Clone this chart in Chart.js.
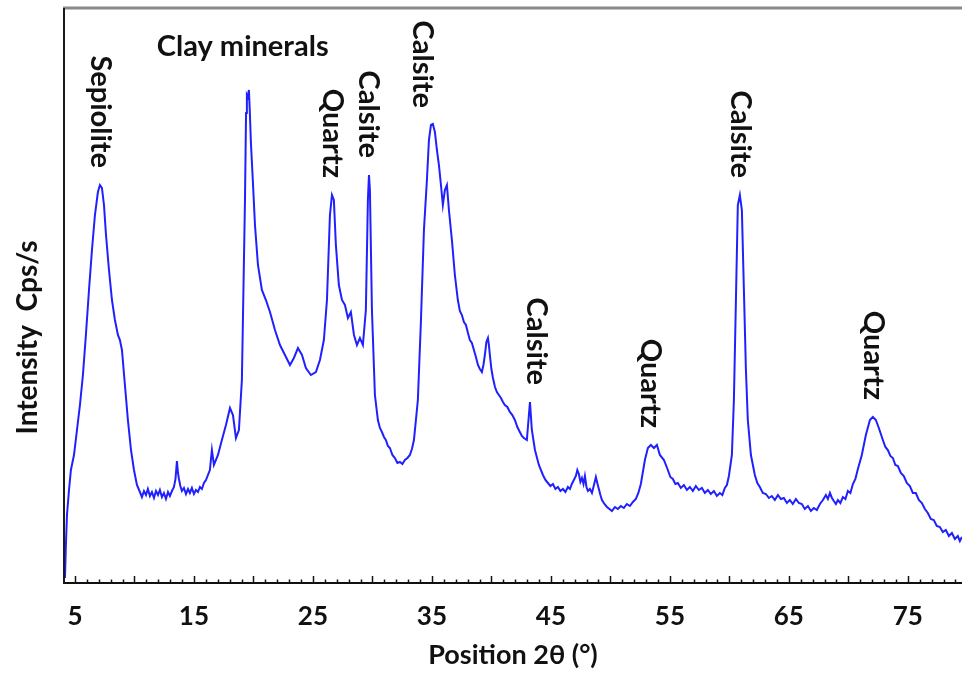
<!DOCTYPE html>
<html>
<head>
<meta charset="utf-8">
<title>XRD pattern</title>
<script src="https://cdn.jsdelivr.net/npm/chart.js@4/dist/chart.umd.min.js"></script>
<style>
  html, body { margin: 0; padding: 0; background: #ffffff; }
  canvas { display: block; }
</style>
</head>
<body>
<canvas id="xrd" width="962" height="675"></canvas>
<script>
// Diffraction angle 2θ (degrees)
const angles = [
  4.16,4.24,4.33,4.50,4.66,4.92,5.17,5.42,5.67,5.92,
  6.18,6.43,6.68,6.93,7.10,7.27,7.44,7.61,7.86,8.11,
  8.36,8.61,8.78,8.95,9.20,9.45,9.71,9.96,10.21,10.46,
  10.63,10.80,10.97,11.13,11.30,11.47,11.64,11.81,11.98,12.14,
  12.31,12.48,12.65,12.82,12.98,13.15,13.32,13.45,13.57,13.66,
  13.74,13.86,13.99,14.16,14.33,14.50,14.66,14.83,15.00,15.17,
  15.34,15.50,15.67,15.84,16.01,16.34,16.51,16.68,17.02,17.35,
  17.69,18.03,18.28,18.53,18.78,19.03,19.29,19.38,19.45,19.53,
  19.62,19.70,19.79,19.96,20.13,20.38,20.71,21.05,21.39,21.81,
  22.23,22.65,23.07,23.40,23.74,24.08,24.41,24.83,25.25,25.59,
  25.92,26.18,26.43,26.60,26.76,26.93,27.18,27.44,27.69,27.94,
  28.19,28.45,28.70,28.95,29.20,29.45,29.62,29.71,29.79,29.96,
  30.21,30.46,30.63,30.80,30.97,31.13,31.30,31.47,31.68,31.89,
  32.10,32.31,32.52,32.73,32.94,33.15,33.32,33.49,33.82,34.08,
  34.33,34.58,34.75,34.92,35.08,35.25,35.42,35.59,35.76,35.92,
  36.09,36.26,36.43,36.68,36.93,37.18,37.35,37.52,37.69,37.86,
  38.03,38.19,38.36,38.53,38.70,38.87,39.03,39.20,39.33,39.45,
  39.58,39.71,39.79,39.87,40.00,40.13,40.30,40.46,40.63,40.80,
  40.97,41.13,41.34,41.55,41.76,41.97,42.18,42.39,42.56,42.73,
  42.98,43.15,43.24,43.40,43.66,43.99,44.33,44.54,44.75,44.96,
  45.17,45.38,45.59,45.80,46.01,46.22,46.43,46.60,46.76,46.93,
  47.10,47.22,47.35,47.48,47.61,47.74,47.86,47.99,48.11,48.28,
  48.45,48.62,48.78,48.90,49.03,49.16,49.29,49.50,49.71,49.92,
  50.13,50.38,50.63,50.88,51.13,51.38,51.64,51.89,52.14,52.35,
  52.56,52.90,53.15,53.40,53.66,53.91,54.16,54.50,54.83,55.04,
  55.25,55.46,55.67,55.92,56.18,56.43,56.68,56.93,57.18,57.43,
  57.69,57.94,58.19,58.44,58.70,58.95,59.20,59.41,59.62,59.79,
  59.96,60.21,60.38,60.55,60.71,60.88,61.05,61.22,61.39,61.55,
  61.81,62.14,62.35,62.56,62.81,63.07,63.32,63.57,63.82,64.08,
  64.33,64.58,64.83,65.08,65.33,65.59,65.84,66.09,66.34,66.60,
  66.85,67.10,67.35,67.61,67.86,68.11,68.28,68.45,68.62,68.78,
  68.95,69.12,69.33,69.54,69.75,69.96,70.17,70.38,70.59,70.80,
  71.13,71.47,71.81,72.06,72.31,72.56,72.90,73.11,73.32,73.53,
  73.74,73.95,74.16,74.41,74.66,74.91,75.17,75.42,75.67,75.92,
  76.18,76.43,76.68,76.93,77.18,77.43,77.69,77.94,78.19,78.45,
  78.70,78.95,79.20,79.37,79.54];

// Measured intensity (counts) at each angle above
const intensity = [
  5,38,68,93,113,128,153,178,208,248,
  293,333,368,391,398,395,378,348,313,283,
  263,248,243,233,198,163,133,113,98,91,
  86,92,88,94,87,91,85,92,88,93,
  86,90,84,91,87,92,96,104,122,110,
  104,97,92,95,89,94,90,95,89,93,
  91,96,94,100,103,113,133,118,128,143,
  158,175,168,145,153,203,383,470,488,486,
  493,470,440,400,358,318,293,283,271,253,
  238,228,218,225,235,228,215,208,211,223,
  243,283,368,388,383,338,298,283,278,265,
  271,248,238,245,238,273,383,408,393,273,
  188,163,155,151,146,143,137,135,128,125,
  120,121,119,123,125,128,134,143,183,263,
  353,403,443,458,459,451,433,418,398,378,
  393,398,373,343,308,283,272,268,261,258,
  250,243,240,233,226,218,214,211,218,228,
  241,245,238,228,214,205,196,191,188,185,
  181,178,176,171,168,163,156,151,147,145,
  143,168,181,153,133,118,108,103,100,97,
  99,94,96,92,94,91,96,94,99,103,
  107,113,109,101,105,99,107,96,92,94,
  90,98,106,100,94,88,83,79,76,74,
  72,76,74,77,75,79,77,81,84,90,
  99,123,135,138,135,138,128,123,113,106,
  104,99,100,95,98,93,96,92,97,93,
  95,90,93,89,92,87,90,88,95,98,
  107,128,183,283,378,388,373,293,213,163,
  128,108,100,96,90,89,85,87,83,88,
  84,85,80,83,79,84,80,79,74,77,
  72,75,73,79,83,88,84,90,85,82,
  79,83,80,86,84,92,90,99,104,114,
  128,148,163,166,163,155,143,136,133,127,
  125,118,117,110,107,100,97,90,90,83,
  80,74,70,64,63,57,56,51,53,47,
  50,44,47,42,46];

// Labelled tick values on the 2θ axis
const tickLabels = [5, 15, 25, 35, 45, 55, 65, 75];

// Phase identifications and the 2θ each one is written at
const peakNames  = ['Sepiolite', 'Quartz', 'Calsite', 'Calsite', 'Calsite', 'Quartz', 'Calsite', 'Quartz'];
const peakAngles = [7.1, 26.6, 29.7, 34.2, 43.8, 53.4, 60.9, 72.1];

// Broad clay reflection label
const clayName  = 'Clay minerals';
const clayAngle = 19.1;

const FONT = 'Lato, "Open Sans", sans-serif';
const INK = '#111111';

// Highest measured intensity within a window around an angle
function localMax(theta, half) {
  let best = 0;
  angles.forEach((a, i) => {
    if (Math.abs(a - theta) <= half && intensity[i] > best) best = intensity[i];
  });
  return best;
}

const frameAndLabels = {
  id: 'frameAndLabels',
  afterDraw(chart) {
    const { ctx, chartArea: area, scales: { x, y } } = chart;
    ctx.save();

    // grey top rule
    ctx.strokeStyle = '#8a8a8a';
    ctx.lineWidth = 3;
    ctx.beginPath();
    ctx.moveTo(area.left - 1, area.top);
    ctx.lineTo(chart.width, area.top);
    ctx.stroke();

    // left axis line
    ctx.strokeStyle = '#1a1a1a';
    ctx.lineWidth = 2;
    ctx.beginPath();
    ctx.moveTo(area.left, area.top);
    ctx.lineTo(area.left, area.bottom);
    ctx.stroke();

    // inward tick marks: every degree, longer every five
    ctx.strokeStyle = INK;
    ctx.lineWidth = 1.5;
    for (let d = Math.ceil(x.min); d <= x.max; d++) {
      const px = Math.round(x.getPixelForValue(d)) + 0.5;
      const len = d % 5 === 0 ? 7 : 3.5;
      ctx.beginPath();
      ctx.moveTo(px, area.bottom);
      ctx.lineTo(px, area.bottom - len);
      ctx.stroke();
    }

    // y axis title
    ctx.fillStyle = INK;
    ctx.font = 'bold 28px ' + FONT;
    ctx.save();
    ctx.translate(area.left - 36, (area.top + area.bottom) / 2 + 42);
    ctx.rotate(-Math.PI / 2);
    ctx.textAlign = 'center';
    ctx.textBaseline = 'middle';
    ctx.fillText('Intensity  Cps/s', 0, 0);
    ctx.restore();

    // vertical phase labels sitting above their peaks
    ctx.font = 'bold 29px ' + FONT;
    peakNames.forEach((name, i) => {
      const th = peakAngles[i];
      const px = x.getPixelForValue(th);
      const py = y.getPixelForValue(localMax(th, 0.8)) - 17;
      ctx.save();
      ctx.translate(px, py);
      ctx.rotate(Math.PI / 2);
      ctx.textAlign = 'right';
      ctx.textBaseline = 'middle';
      ctx.fillText(name, 0, 0);
      ctx.restore();
    });

    // horizontal clay label
    ctx.textAlign = 'center';
    ctx.textBaseline = 'middle';
    ctx.fillText(clayName, x.getPixelForValue(clayAngle), y.getPixelForValue(localMax(19.6, 0.5)) - 43);

    ctx.restore();
  }
};

new Chart(document.getElementById('xrd'), {
  type: 'line',
  data: {
    datasets: [{
      data: angles.map((a, i) => ({ x: a, y: intensity[i] })),
      borderColor: '#2020ff',
      borderWidth: 2,
      pointRadius: 0,
      tension: 0,
      fill: false
    }]
  },
  options: {
    responsive: false,
    animation: false,
    devicePixelRatio: 1,
    layout: { padding: { left: 64, top: 8, right: 0, bottom: 0 } },
    plugins: { legend: { display: false }, tooltip: { enabled: false } },
    scales: {
      x: {
        type: 'linear',
        min: 4.08,
        max: 79.55,
        afterBuildTicks: (scale) => { scale.ticks = tickLabels.map(v => ({ value: v })); },
        afterFit: (scale) => { scale.height = 92; },
        ticks: {
          autoSkip: false,
          maxRotation: 0,
          padding: 18,
          color: INK,
          font: { family: FONT, weight: 'bold', size: 26 },
          callback: (v) => String(v)
        },
        grid: { display: false, drawTicks: false, tickLength: 0 },
        border: { display: true, color: INK, width: 2 },
        title: {
          display: true,
          text: 'Position 2θ (°)',
          color: INK,
          font: { family: FONT, weight: 'bold', size: 27 },
          padding: { top: 6, bottom: 4 }
        }
      },
      y: { display: false, min: 0, max: 575 }
    }
  },
  plugins: [frameAndLabels]
});
</script>
</body>
</html>
